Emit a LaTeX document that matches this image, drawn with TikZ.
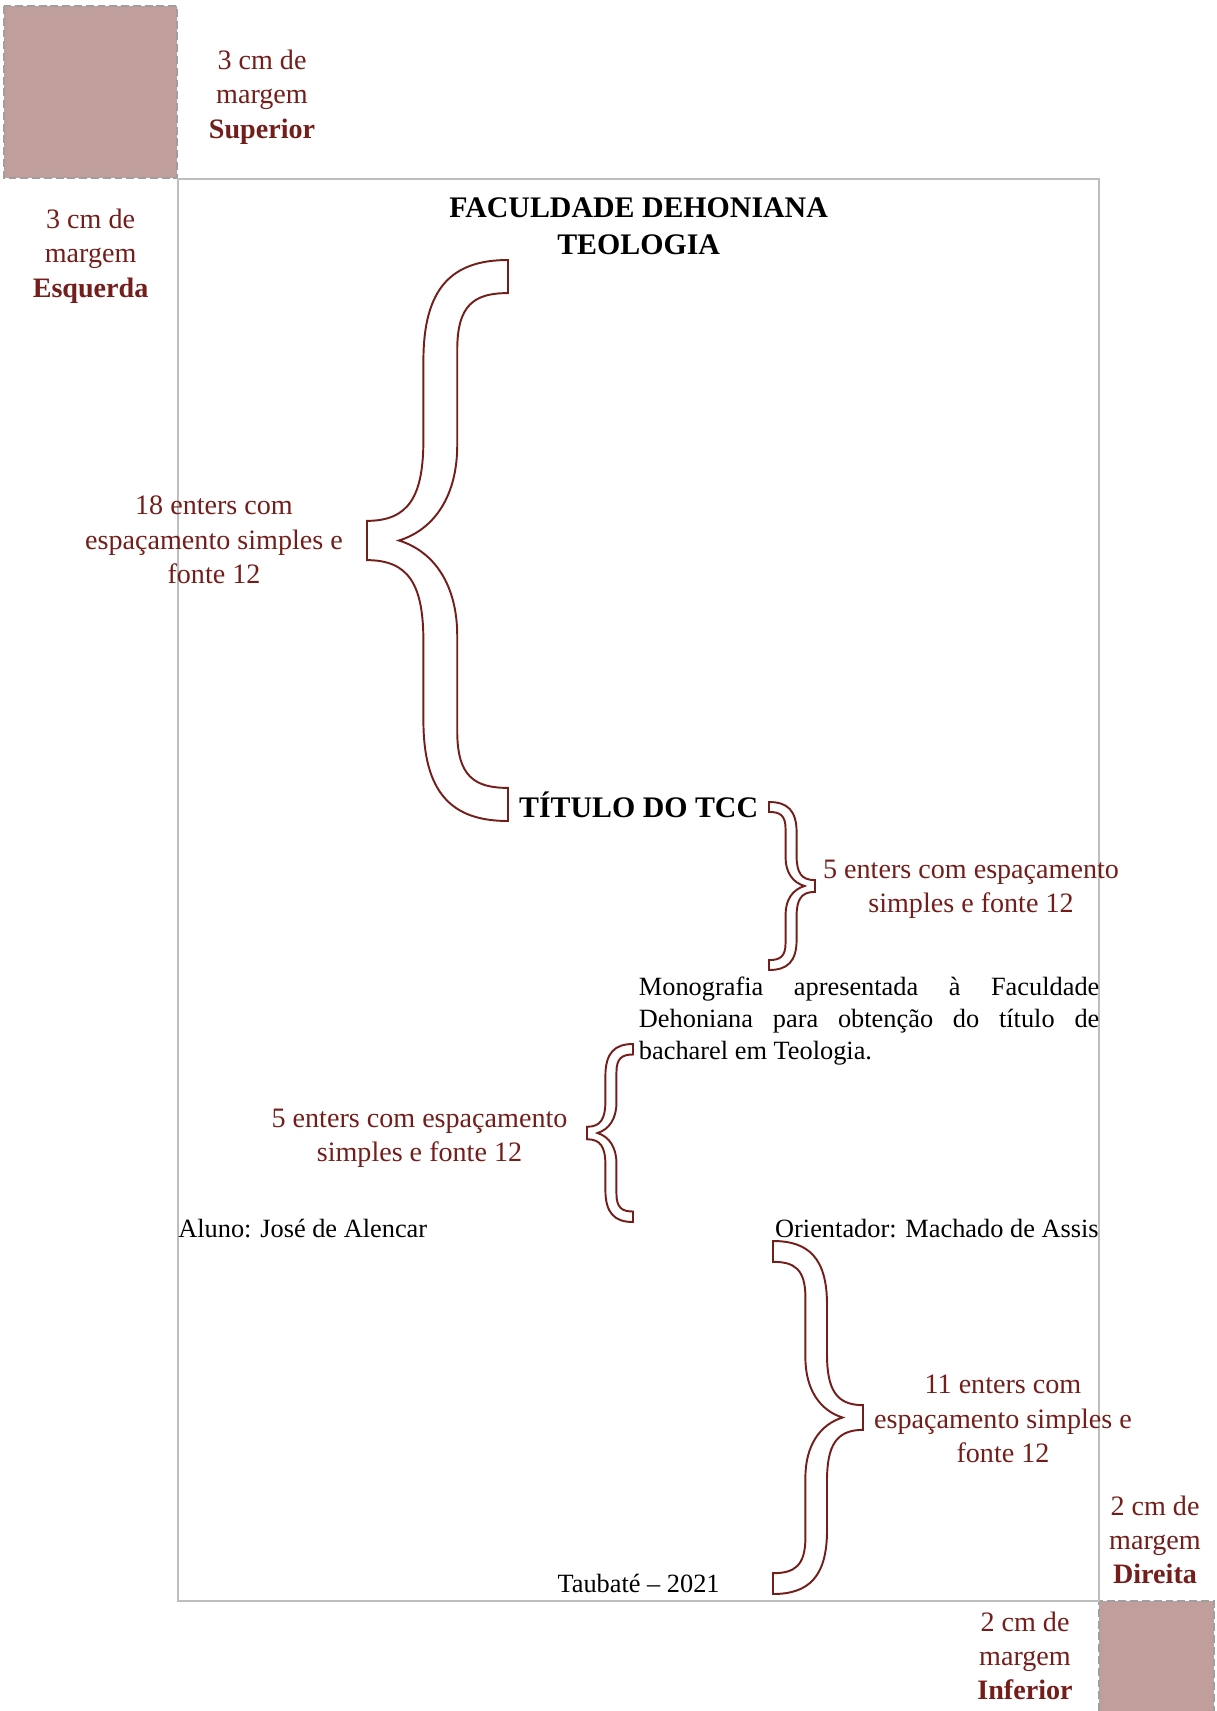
\documentclass[tikz,border=0pt]{standalone}
\usepackage{fontspec}
\setmainfont{Liberation Serif}
\usepackage{xcolor}
\usepackage{tikz}
\usetikzlibrary{positioning}

\definecolor{margemred}{RGB}{115,30,26}
\definecolor{margemfill}{RGB}{192,158,155}
\definecolor{pageline}{RGB}{190,190,190}

\tikzset{
  hbrace/.pic={
    \draw[draw=margemred, line width=1.1pt, line join=miter]
      (1,0) -- (1,0.059)
      .. controls (0.76,0.059) and (0.64,0.08) .. (0.64,0.16)
      -- (0.64,0.33)
      .. controls (0.64,0.42) and (0.48,0.48) .. (0.227,0.5)
      .. controls (0.48,0.52) and (0.64,0.58) .. (0.64,0.67)
      -- (0.64,0.84)
      .. controls (0.64,0.92) and (0.76,0.941) .. (1,0.941)
      -- (1,1)
      .. controls (0.6,1) and (0.40,0.95) .. (0.40,0.82)
      -- (0.40,0.68)
      .. controls (0.40,0.58) and (0.3,0.535) .. (0,0.535)
      -- (0,0.465)
      .. controls (0.3,0.465) and (0.40,0.42) .. (0.40,0.32)
      -- (0.40,0.18)
      .. controls (0.40,0.05) and (0.6,0) .. (1,0)
      -- cycle;
  }
}

\begin{document}
\begin{tikzpicture}[x=0.02cm, y=-0.02cm]

    \tikzstyle{margin box}=[fill=margemfill, draw=gray!75, dash pattern=on 4.5pt off 2.2pt, line width=1pt]
    \tikzstyle{margin label}=[inner sep=0pt, align=center, text=margemred, font=\fontsize{16}{19.5}\selectfont]
    \tikzstyle{page text}=[inner sep=0pt, font=\fontsize{15}{18}\selectfont]
    \tikzstyle{page title}=[inner sep=0pt, align=center, font=\fontsize{17}{21}\selectfont\bfseries]

    \useasboundingbox (0,0) rectangle (1217,1711);

    % margens
    \draw[margin box] (4,6) rectangle (177,178);
    \fill[margemfill] (1099,1601) rectangle (1214,1711);
    \draw[margin box, fill=none] (1099,1711) |- (1214,1601) -- (1214,1711);
    \draw[pageline, line width=0.6pt] (178,179) rectangle (1099,1601);

    \node[margin label] (SUPERIOR) at (262,97) {3 cm de\\margem\\\textbf{Superior}};
    \node[margin label] (ESQUERDA) at (90.6,256) {3 cm de\\margem\\\textbf{Esquerda}};
    \node[margin label] (DIREITA) at (1155,1540) {2 cm de\\margem\\\textbf{Direita}};
    \node[margin label] (INFERIOR) at (1025,1656) {2 cm de\\margem\\\textbf{Inferior}};

    % chaves
    \pic (CHAVE18) [xscale=141, yscale=561] at (367,260) {hbrace};
    \pic (CHAVE5A) [xscale=-46, yscale=168] at (815,802) {hbrace};
    \pic (CHAVE5B) [xscale=46, yscale=178] at (587,1044) {hbrace};
    \pic (CHAVE11) [xscale=-90, yscale=353] at (863,1241) {hbrace};

    \node[margin label] (ENTERS18) at (214,540) {18 enters com\\espaçamento simples e\\fonte 12};
    \node[margin label] (ENTERS5A) at (971,889) {5 enters com espaçamento\\simples e fonte 12};
    \node[margin label] (ENTERS5B) at (419.5,1138) {5 enters com espaçamento\\simples e fonte 12};
    \node[margin label] (ENTERS11) at (1003,1419) {11 enters com\\espaçamento simples e\\fonte 12};

    % folha de rosto
    \node[page title] (FACULDADE) at (638.6,226) {FACULDADE DEHONIANA\\TEOLOGIA};
    \node[page title] (TITULO) at (638.6,805) {TÍTULO DO TCC};
    \node[page text, anchor=west, text width=9.21cm, align=justify] (MONOGRAFIA) at (638.6,1021)
      {\tolerance=10000 Monografia apresentada à Faculdade\linebreak Dehoniana para obtenção do título de\linebreak bacharel em Teologia.};
    \node[page text, anchor=west] (ALUNO) at (178,1229) {Aluno: José de Alencar};
    \node[page text, anchor=east] (ORIENTADOR) at (1099,1229) {Orientador: Machado de Assis};
    \node[page text] (LOCAL) at (638.6,1583) {Taubaté – 2021};

\end{tikzpicture}
\end{document}
